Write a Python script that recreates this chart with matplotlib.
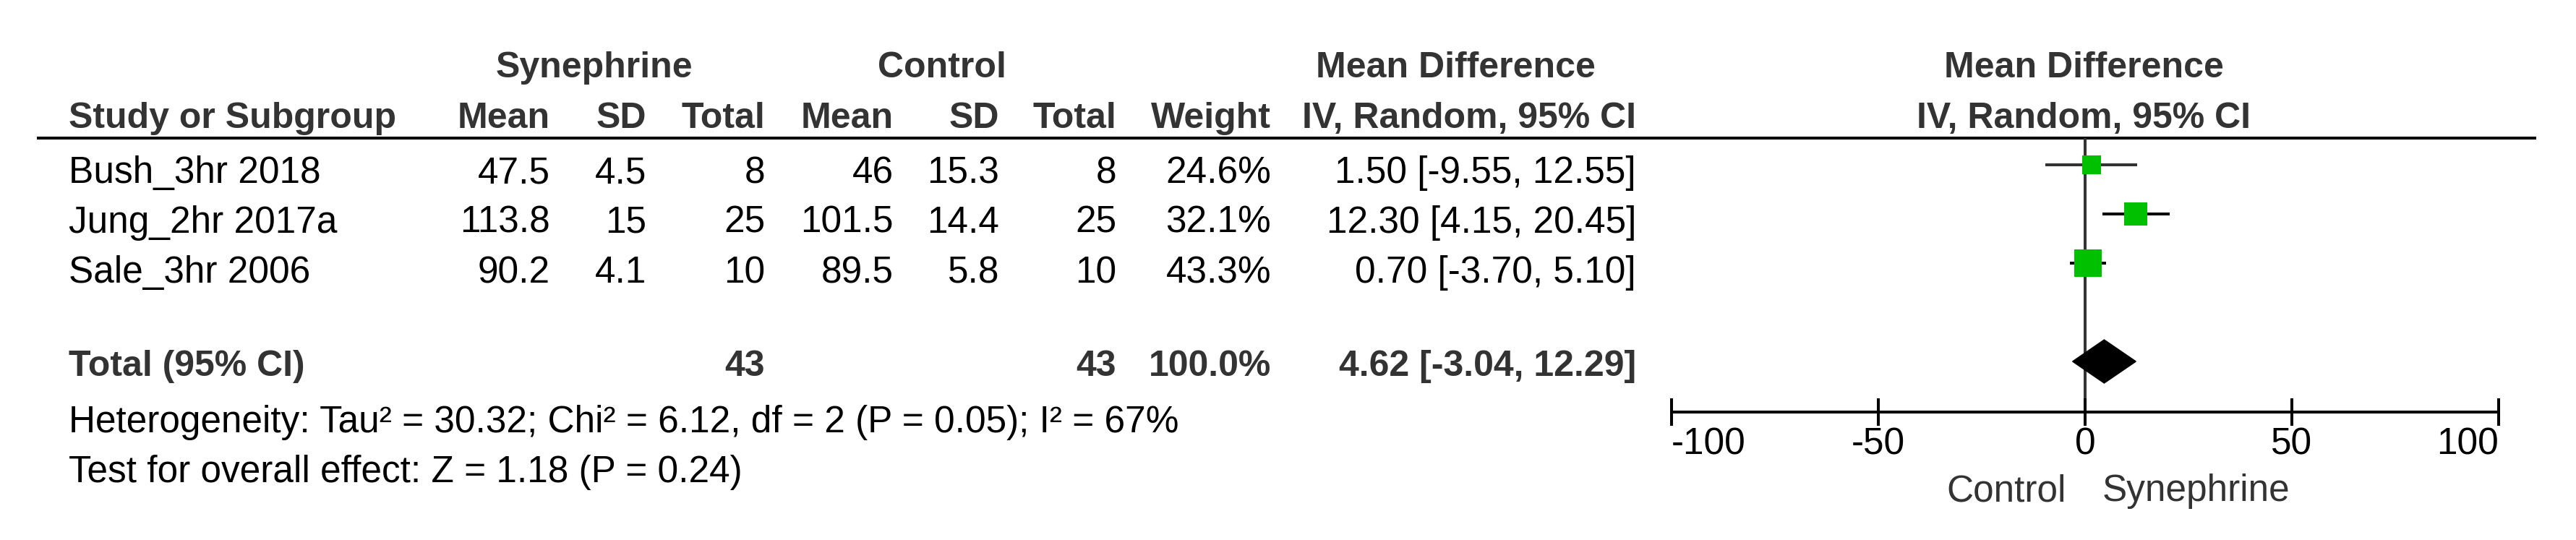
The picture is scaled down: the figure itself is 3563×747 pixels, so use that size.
"""Forest plot: Synephrine vs Control, mean difference (IV, Random, 95% CI)."""

import matplotlib
matplotlib.use("Agg")
import matplotlib.pyplot as plt
from matplotlib.patches import Polygon

plt.rcParams["font.family"] = ["Liberation Sans", "DejaVu Sans"]

# ── data ──
studies = ["Bush_3hr 2018", "Jung_2hr 2017a", "Sale_3hr 2006"]
syn_mean = [47.5, 113.8, 90.2]
syn_sd = [4.5, 15, 4.1]
syn_n = [8, 25, 10]
ctl_mean = [46, 101.5, 89.5]
ctl_sd = [15.3, 14.4, 5.8]
ctl_n = [8, 25, 10]
weights = [24.6, 32.1, 43.3]
md = [1.50, 12.30, 0.70]
ci_lo = [-9.55, 4.15, -3.70]
ci_hi = [12.55, 20.45, 5.10]

total_syn_n = 43
total_ctl_n = 43
total_weight = 100.0
total_md = 4.62
total_lo = -3.04
total_hi = 12.29

heterogeneity = "Heterogeneity: Tau\u00b2 = 30.32; Chi\u00b2 = 6.12, df = 2 (P = 0.05); I\u00b2 = 67%"
overall_effect = "Test for overall effect: Z = 1.18 (P = 0.24)"

x_ticks = [-100, -50, 0, 50, 100]
favours = ["Control", "Synephrine"]

# ── layout (pixels of the 3563x747 canvas) ──
W, H = 3563, 747
FS = 37          # regular text size
FSB = 36         # bold header size
HEAD_COL = "#333333"

row_base = [253, 322, 391]     # text baselines of study rows
total_base = 520
het_base = 598
test_base = 667
head1_base = 107
head2_base = 177
line_y = 191
axis_y = 570
row0_px, row_step = 228, 68     # forest row centres
total_row = 4

col_name = 95
cols = {"syn_mean": 761, "syn_sd": 894, "syn_n": 1058,
        "ctl_mean": 1236, "ctl_sd": 1382, "ctl_n": 1544,
        "weight": 1758, "ci": 2263}
plot_x0, plot_x1 = 2312, 3456
plot_mid = 2882

fig = plt.figure(figsize=(W / 100, H / 100), dpi=100)
tax = fig.add_axes([0, 0, 1, 1])
tax.set_xlim(0, W)
tax.set_ylim(H, 0)
tax.axis("off")


def txt(x, y, s, ha="right", bold=False, color="black", size=None):
    tax.text(x, y, s, ha=ha, va="baseline",
             fontsize=size or (FSB if bold else FS),
             fontweight="bold" if bold else "normal", color=color)


# headers
txt(822, head1_base, "Synephrine", ha="center", bold=True, color=HEAD_COL)
txt(1303, head1_base, "Control", ha="center", bold=True, color=HEAD_COL)
txt(2013, head1_base, "Mean Difference", ha="center", bold=True, color=HEAD_COL)
txt(plot_mid, head1_base, "Mean Difference", ha="center", bold=True, color=HEAD_COL)

txt(col_name, head2_base, "Study or Subgroup", ha="left", bold=True, color=HEAD_COL)
for key, lab in [("syn_mean", "Mean"), ("syn_sd", "SD"), ("syn_n", "Total"),
                 ("ctl_mean", "Mean"), ("ctl_sd", "SD"), ("ctl_n", "Total"),
                 ("weight", "Weight"), ("ci", "IV, Random, 95% CI")]:
    txt(cols[key], head2_base, lab, bold=True, color=HEAD_COL)
txt(plot_mid, head2_base, "IV, Random, 95% CI", ha="center", bold=True, color=HEAD_COL)

tax.plot([51, 3508], [line_y, line_y], color="black", lw=2.9, solid_capstyle="butt")

# study rows
for i, name in enumerate(studies):
    y = row_base[i]
    txt(col_name, y, name, ha="left")
    txt(cols["syn_mean"], y, f"{syn_mean[i]:g}")
    txt(cols["syn_sd"], y, f"{syn_sd[i]:g}")
    txt(cols["syn_n"], y, f"{syn_n[i]}")
    txt(cols["ctl_mean"], y, f"{ctl_mean[i]:g}")
    txt(cols["ctl_sd"], y, f"{ctl_sd[i]:g}")
    txt(cols["ctl_n"], y, f"{ctl_n[i]}")
    txt(cols["weight"], y, f"{weights[i]:.1f}%")
    txt(cols["ci"], y, f"{md[i]:.2f} [{ci_lo[i]:.2f}, {ci_hi[i]:.2f}]")

# total row
txt(col_name, total_base, "Total (95% CI)", ha="left", bold=True, color=HEAD_COL)
txt(cols["syn_n"], total_base, f"{total_syn_n}", bold=True, color=HEAD_COL)
txt(cols["ctl_n"], total_base, f"{total_ctl_n}", bold=True, color=HEAD_COL)
txt(cols["weight"], total_base, f"{total_weight:.1f}%", bold=True, color=HEAD_COL)
txt(cols["ci"], total_base, f"{total_md:.2f} [{total_lo:.2f}, {total_hi:.2f}]", bold=True, color=HEAD_COL)

txt(col_name, het_base, heterogeneity, ha="left")
txt(col_name, test_base, overall_effect, ha="left")

# ── forest panel ──
y_top = (line_y - row0_px) / row_step
y_bot = (axis_y - row0_px) / row_step
ax = fig.add_axes([plot_x0 / W, (H - axis_y) / H,
                   (plot_x1 - plot_x0) / W, (axis_y - line_y) / H])
ax.patch.set_alpha(0)
ax.set_xlim(-100, 100)
ax.set_ylim(y_bot, y_top)
for s in ["top", "left", "right"]:
    ax.spines[s].set_visible(False)
ax.spines["bottom"].set_linewidth(2.9)
ax.set_yticks([])
ax.set_xticks(x_ticks)
ax.set_xticklabels([f"{t}" for t in x_ticks])
ax.tick_params(axis="x", direction="inout", length=28, width=2.9, pad=1,
               labelsize=FS, colors="black")
labels = ax.get_xticklabels()
labels[0].set_ha("left")
labels[-1].set_ha("right")

ax.axvline(0, color="#333333", lw=2.9, zorder=1)

ci_colors = ["#333333", "black", "black"]
for i in range(len(studies)):
    ax.plot([ci_lo[i], ci_hi[i]], [i, i], color=ci_colors[i], lw=2.9,
            solid_capstyle="butt", zorder=2)
    side_px = 8.9 + 0.695 * weights[i]
    ax.plot(md[i], i, marker="s", markersize=side_px * 0.72,
            color="#00c000", markeredgewidth=0, zorder=3)

dh = 30 / row_step
diamond = Polygon([(total_lo, total_row), (total_md, total_row - dh),
                   (total_hi, total_row), (total_md, total_row + dh)],
                  closed=True, facecolor="black", edgecolor="black", lw=1, zorder=3)
ax.add_patch(diamond)

# favours labels
txt(2858, 693, favours[0], ha="right", color=HEAD_COL)
txt(2908, 693, favours[1], ha="left", color=HEAD_COL)

fig.savefig("out.png", dpi=100)
